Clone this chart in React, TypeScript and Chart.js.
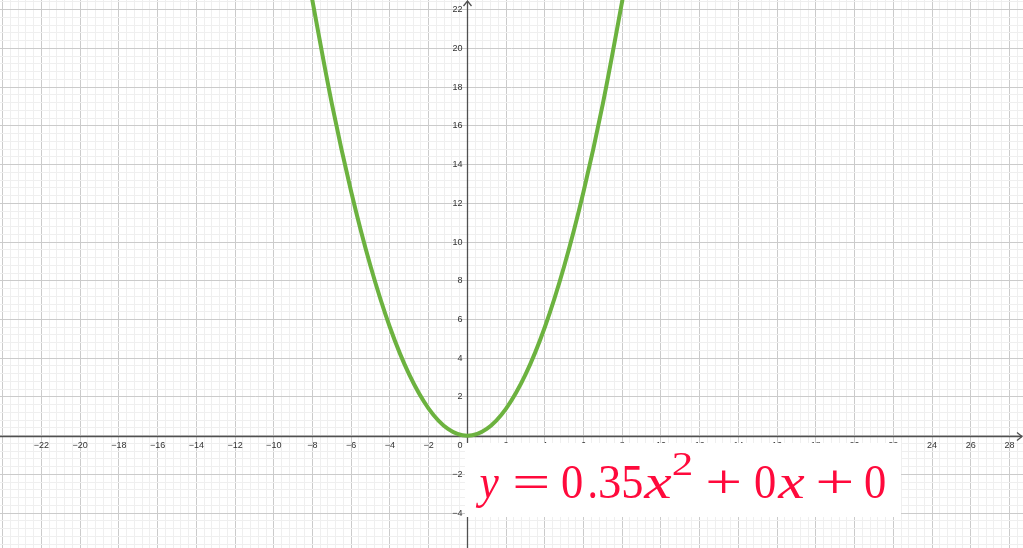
import React, { useEffect, useRef } from 'react';
import { Chart, registerables } from 'chart.js';

Chart.register(...registerables);

// points
const curveX = [-8.2, -7, -6, -5, -4, -3, -2, -1, 0, 1, 2, 3, 4, 5, 6, 7, 8.2];
const curveY = [23.53, 17.15, 12.6, 8.75, 5.6, 3.15, 1.4, 0.35, 0, 0.35, 1.4, 3.15, 5.6, 8.75, 12.6, 17.15, 23.53];

const xTickLabels = [-22, -20, -18, -16, -14, -12, -10, -8, -6, -4, -2, 2, 4, 6, 8, 10, 12, 14, 16, 18, 20, 22, 24, 26, 28];
const yTickLabels = [-4, -2, 2, 4, 6, 8, 10, 12, 14, 16, 18, 20, 22];

const xRange = [-24.14, 28.7];
const yRange = [-5.8, 22.5];

const majorStep = 2;
const minorStep = 0.4;

// equation glyphs: text, ink left / right, style
const equation = [
  { t: 'y', l: 475, r: 499, style: 'it' },
  { t: '=', l: 515, r: 548, style: 'rm' },
  { t: '0', l: 562, r: 582, style: 'rm' },
  { t: '.', l: 590, r: 596, style: 'rm' },
  { t: '3', l: 600, r: 620, style: 'rm' },
  { t: '5', l: 623, r: 642, style: 'rm' },
  { t: 'x', l: 643, r: 672, style: 'it' },
  { t: '2', l: 673, r: 692, style: 'sup' },
  { t: '+', l: 708, r: 740, style: 'rm' },
  { t: '0', l: 755, r: 775, style: 'rm' },
  { t: 'x', l: 777, r: 805, style: 'it' },
  { t: '+', l: 818, r: 852, style: 'rm' },
  { t: '0', l: 865, r: 885, style: 'rm' },
];

const isMultiple = (v: number, step: number) => Math.abs(v / step - Math.round(v / step)) < 1e-6;

const fmt = (v: number) => (v < 0 ? '\u2212' + Math.abs(v) : String(v));

const gridColor = (c: any) => {
  const v = c.tick ? c.tick.value : NaN;
  if (isMultiple(v, majorStep)) return '#cbcbcb';
  if (isMultiple(v, minorStep)) return '#efefef';
  return 'rgba(0,0,0,0)';
};

const graphPlugin = {
  id: 'graph',
  beforeDraw(chart: any) {
    const ctx = chart.ctx;
    ctx.save();
    ctx.fillStyle = '#ffffff';
    ctx.fillRect(0, 0, chart.width, chart.height);
    ctx.restore();
  },
  beforeDatasetsDraw(chart: any) {
    const { ctx, chartArea } = chart;
    const xs = chart.scales.x;
    const ys = chart.scales.y;
    const ox = Math.round(xs.getPixelForValue(0)) + 0.5;
    const oy = Math.round(ys.getPixelForValue(0)) + 0.5;
    ctx.save();
    ctx.strokeStyle = '#505050';
    ctx.lineWidth = 1.3;
    ctx.beginPath();
    ctx.moveTo(chartArea.left, oy);
    ctx.lineTo(chartArea.right - 1, oy);
    ctx.moveTo(ox, chartArea.bottom);
    ctx.lineTo(ox, chartArea.top + 1);
    ctx.stroke();
    // arrow heads
    ctx.beginPath();
    ctx.moveTo(chartArea.right - 6, oy - 4);
    ctx.lineTo(chartArea.right - 1, oy);
    ctx.lineTo(chartArea.right - 6, oy + 4);
    ctx.moveTo(ox - 4, chartArea.top + 6);
    ctx.lineTo(ox, chartArea.top + 1);
    ctx.lineTo(ox + 4, chartArea.top + 6);
    ctx.stroke();

    ctx.fillStyle = '#333333';
    ctx.font = '9px "Liberation Sans", Arial, sans-serif';
    ctx.textBaseline = 'middle';
    ctx.textAlign = 'center';
    xTickLabels.forEach((v) => {
      ctx.fillText(fmt(v), xs.getPixelForValue(v), oy + 9);
    });
    ctx.textAlign = 'right';
    yTickLabels.forEach((v) => {
      ctx.fillText(fmt(v), ox - 5, ys.getPixelForValue(v));
    });
    ctx.fillText('0', ox - 5, oy + 9);
    ctx.restore();
  },
  afterDatasetsDraw(chart: any) {
    const ctx = chart.ctx;
    ctx.save();
    ctx.fillStyle = '#ffffff';
    ctx.fillRect(465, 443, 436, 74);
    ctx.fillStyle = '#ff0a3c';
    ctx.textBaseline = 'alphabetic';
    ctx.textAlign = 'left';
    equation.forEach((p) => {
      ctx.save();
      let base = 498;
      if (p.style === 'it') ctx.font = 'italic 49px "Liberation Serif", serif';
      else if (p.style === 'sup') {
        ctx.font = '34px "Liberation Serif", serif';
        base = 475;
      } else ctx.font = '49px "Liberation Serif", serif';
      const m = ctx.measureText(p.t);
      const ink = m.actualBoundingBoxLeft + m.actualBoundingBoxRight;
      const sx = ink > 0 ? (p.r - p.l) / ink : 1;
      ctx.translate(p.l, base);
      ctx.scale(sx, 1);
      ctx.fillText(p.t, m.actualBoundingBoxLeft, 0);
      ctx.restore();
    });
    ctx.restore();
  },
};

const App: React.FC = () => {
  const canvasRef = useRef<HTMLCanvasElement>(null);

  useEffect(() => {
    if (!canvasRef.current) return;
    const chart = new Chart(canvasRef.current, {
      type: 'line',
      data: {
        datasets: [
          {
            data: curveX.map((x, i) => ({ x, y: curveY[i] })),
            borderColor: '#6cb23f',
            borderWidth: 4,
            pointRadius: 0,
            cubicInterpolationMode: 'monotone',
            fill: false,
          },
        ],
      },
      options: {
        animation: false,
        responsive: true,
        maintainAspectRatio: false,
        layout: { padding: 0 },
        plugins: { legend: { display: false }, tooltip: { enabled: false } },
        scales: {
          x: {
            type: 'linear',
            min: xRange[0],
            max: xRange[1],
            border: { display: false },
            ticks: { display: false, stepSize: minorStep, includeBounds: false },
            grid: { color: gridColor, lineWidth: 1, drawTicks: false },
          },
          y: {
            type: 'linear',
            min: yRange[0],
            max: yRange[1],
            border: { display: false },
            ticks: { display: false, stepSize: minorStep, includeBounds: false },
            grid: { color: gridColor, lineWidth: 1, drawTicks: false },
          },
        },
      },
      plugins: [graphPlugin],
    });
    return () => chart.destroy();
  }, []);

  return (
    <div style={{ position: 'fixed', left: 0, top: 0, width: 1023, height: 548, background: '#fff' }}>
      <canvas ref={canvasRef} />
    </div>
  );
};

export default App;
